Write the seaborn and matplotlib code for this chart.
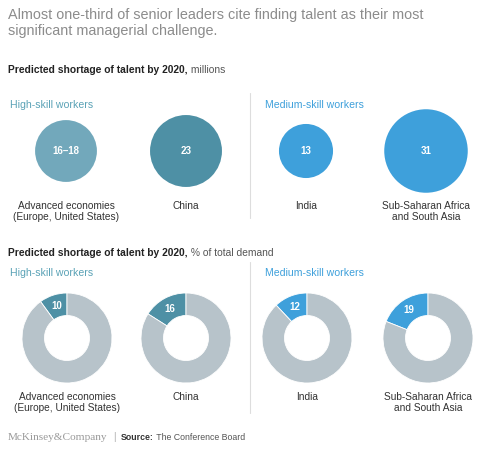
import math
import matplotlib.pyplot as plt
import seaborn as sns
import pandas as pd

# data
regions = ["Advanced economies\n(Europe, United States)", "China", "India",
           "Sub-Saharan Africa\nand South Asia"]
skill = ["High-skill workers", "High-skill workers", "Medium-skill workers", "Medium-skill workers"]
shortage_millions = [17, 23, 13, 31]          # 16-18 drawn at its midpoint
shortage_labels = ["16–18", "23", "13", "31"]
shortage_pct = [10, 16, 12, 19]

bubble_colors = ["#72a8bb", "#4e90a5", "#3ea0db", "#3ea0db"]
ring_colors = ["#4e90a5", "#4e90a5", "#3ea0db", "#3ea0db"]
ring_gray = "#b7c3ca"
teal_txt = "#5aa2b6"
blue_txt = "#3ea0db"

sns.set_theme(style="white")
plt.rcParams["font.family"] = ["Liberation Sans", "DejaVu Sans"]

W, H = 480, 450
fig = plt.figure(figsize=(W / 100, H / 100), dpi=100)
fig.patch.set_facecolor("white")


def box(x, y, w, h):
    return [x / W, 1 - (y + h) / H, w / W, h / H]


bg = fig.add_axes([0, 0, 1, 1])
bg.set_xlim(0, W)
bg.set_ylim(H, 0)
bg.axis("off")

bg.text(8, 8, "Almost one-third of senior leaders cite finding talent as their most\n"
        "significant managerial challenge.", va="top", ha="left",
        fontsize=10.4, color="#8c8c8c", linespacing=1.15)


def subhead(y, bold, rest):
    t = bg.text(8, y, bold, va="center", ha="left", fontsize=7.4,
                fontweight="bold", color="#222222")
    bg.annotate(rest, xy=(1, 0.5), xycoords=t, va="center", ha="left",
                fontsize=7.4, color="#555555")


subhead(70, "Predicted shortage of talent by 2020,", " millions")
subhead(253, "Predicted shortage of talent by 2020,", " % of total demand")

for y in (105, 273):
    bg.text(10, y, "High-skill workers", va="center", fontsize=7.6, color=teal_txt)
    bg.text(265, y, "Medium-skill workers", va="center", fontsize=7.6, color=blue_txt)

bg.plot([250, 250], [93, 218], color="#dddddd", lw=0.8)
bg.plot([250, 250], [262, 413], color="#dddddd", lw=0.8)

# footer
bg.text(8, 437, "McKinsey&Company", va="center", ha="left", fontsize=8.1,
        color="#9a9a9a", family=["Liberation Serif", "DejaVu Serif"])
bg.text(113, 437, "|", va="center", fontsize=7, color="#aaaaaa")
s = bg.text(121, 437, "Source:", va="center", fontsize=6.3, fontweight="bold", color="#333333")
bg.annotate(" The Conference Board", xy=(1, 0.5), xycoords=s, va="center",
            fontsize=6.3, color="#555555")

# bubbles, area proportional to millions
df = pd.DataFrame({"region": regions, "skill": skill, "millions": shortage_millions,
                   "row": 0})
k = 116.6
ax = fig.add_axes(box(0, 101, W, 100))
sns.scatterplot(data=df, x="region", y="row", hue="region", size="millions",
                sizes=(k * min(shortage_millions), k * max(shortage_millions)),
                palette=bubble_colors, linewidth=0, legend=False, ax=ax)
ax.set_xlim(-0.55, 3.45)
ax.set_ylim(-1, 1)
ax.axis("off")
for i, lab in enumerate(shortage_labels):
    ax.text(i, 0, lab, ha="center", va="center", fontsize=7, color="white",
            fontweight="bold")
    ax.annotate(regions[i], xy=(i, 0), xytext=(0, -50), textcoords="offset pixels",
                ha="center", va="top", fontsize=7.3, color="#333333",
                linespacing=1.15)

# donuts, share of total demand
centers = [67, 186, 307, 428]
r = 45
for i, pct in enumerate(shortage_pct):
    dax = fig.add_axes(box(centers[i] - r, 338 - r, 2 * r, 2 * r))
    dax.pie([pct, 100 - pct], colors=[ring_colors[i], ring_gray], startangle=90,
            counterclock=True, radius=1,
            wedgeprops=dict(width=0.5, edgecolor="white", linewidth=0.6))
    dax.set_xlim(-1, 1)
    dax.set_ylim(-1, 1)
    dax.set_aspect("equal")
    ang = math.radians(90 + pct * 3.6 / 2)
    dax.text(0.74 * math.cos(ang), 0.74 * math.sin(ang), str(pct), ha="center",
             va="center", fontsize=7, color="white", fontweight="bold")
    dax.annotate(regions[i], xy=(0, -1), xycoords="data", xytext=(0, -9),
                 textcoords="offset pixels", ha="center", va="top",
                 fontsize=7.3, color="#333333", linespacing=1.15,
                 annotation_clip=False)

fig.savefig("out.png", dpi=100)
